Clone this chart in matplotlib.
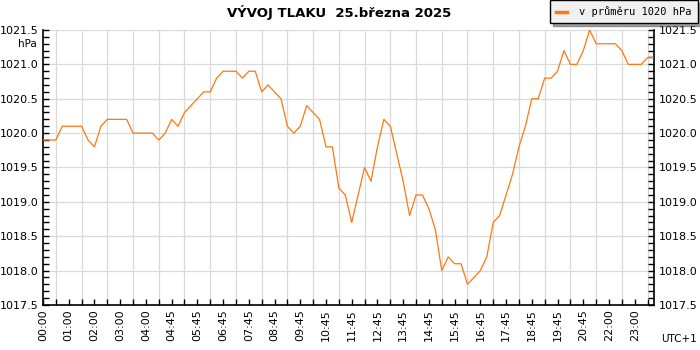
import matplotlib
matplotlib.use("Agg")
import matplotlib.pyplot as plt
import numpy as np

# pressure samples (hPa), one every ~15 min
pressure = [
    1019.9, 1019.9, 1019.9, 1020.1, 1020.1, 1020.1, 1020.1, 1019.9,
    1019.8, 1020.1, 1020.2, 1020.2, 1020.2, 1020.2, 1020.0, 1020.0,
    1020.0, 1020.0, 1019.9, 1020.0, 1020.2, 1020.1, 1020.3, 1020.4,
    1020.5, 1020.6, 1020.6, 1020.8, 1020.9, 1020.9, 1020.9, 1020.8,
    1020.9, 1020.9, 1020.6, 1020.7, 1020.6, 1020.5, 1020.1, 1020.0,
    1020.1, 1020.4, 1020.3, 1020.2, 1019.8, 1019.8, 1019.2, 1019.1,
    1018.7, 1019.1, 1019.5, 1019.3, 1019.8, 1020.2, 1020.1, 1019.7,
    1019.3, 1018.8, 1019.1, 1019.1, 1018.9, 1018.6, 1018.0, 1018.2,
    1018.1, 1018.1, 1017.8, 1017.9, 1018.0, 1018.2, 1018.7, 1018.8,
    1019.1, 1019.4, 1019.8, 1020.1, 1020.5, 1020.5, 1020.8, 1020.8,
    1020.9, 1021.2, 1021.0, 1021.0, 1021.2, 1021.5, 1021.3, 1021.3,
    1021.3, 1021.3, 1021.2, 1021.0, 1021.0, 1021.0, 1021.1, 1021.1,
]

time_labels = ["00:00", "01:00", "02:00", "03:00", "04:00", "04:45",
               "05:45", "06:45", "07:45", "08:45", "09:45", "10:45",
               "11:45", "12:45", "13:45", "14:45", "15:45", "16:45",
               "17:45", "18:45", "19:45", "20:45", "22:00", "23:00"]

title = "VÝVOJ TLAKU  25.března 2025"
legend_label = "v průměru 1020 hPa"

x = np.arange(len(pressure))

fig = plt.figure(figsize=(7, 3.5), dpi=100)
ax = fig.add_axes([0.0614, 0.1286, 0.8729, 0.7857])

ax.plot(x, pressure, color="#ff7711", linewidth=0.9, label=legend_label, zorder=3)

ax.set_xlim(0, len(pressure) - 1)
ax.set_ylim(1017.5, 1021.5)

# x ticks: label every 4 samples, grid every 2
ax.set_xticks(x[::4])
ax.set_xticklabels(time_labels, rotation=90, fontsize=8)
ax.set_xticks(x[::2], minor=True)

ax.set_yticks(np.arange(1017.5, 1021.51, 0.5))
ax.set_yticks(np.arange(1017.5, 1021.51, 0.1), minor=True)
ax.yaxis.set_major_formatter(matplotlib.ticker.FormatStrFormatter("%.1f"))

ax.tick_params(axis="both", which="both", direction="in", length=4, width=1,
               labelsize=8, colors="black")
ax.tick_params(axis="y", which="both", left=True, right=True,
               labelleft=True, labelright=True)
ax.tick_params(axis="x", which="major", pad=3)

ax.grid(True, which="minor", axis="x", color="#d9d9d9", linewidth=0.9, zorder=0)
ax.grid(True, which="major", axis="y", color="#d9d9d9", linewidth=0.9, zorder=0)
ax.set_axisbelow(True)

ax.spines["top"].set_visible(False)
for s in ["left", "right", "bottom"]:
    ax.spines[s].set_linewidth(1.2)

fig.text(0.485, 0.965, title, ha="center", va="center", fontsize=9.5,
         fontweight="bold")
fig.text(0.053, 0.873, "hPa", ha="right", va="center", fontsize=7.5)
fig.text(0.995, 0.03, "UTC+1", ha="right", va="center", fontsize=7.5)

leg = fig.legend(loc="upper right", bbox_to_anchor=(0.997, 1.0),
                 frameon=True, fancybox=False, shadow=True,
                 facecolor="#f0f0f0", edgecolor="black", framealpha=1,
                 handlelength=1.0, handletextpad=1.2, borderpad=0.6,
                 borderaxespad=0.0,
                 prop={"family": "DejaVu Sans Mono", "size": 7.5})
leg.get_frame().set_linewidth(1.0)
for line in leg.get_lines():
    line.set_linewidth(2.5)

fig.savefig("out.png", dpi=100)
